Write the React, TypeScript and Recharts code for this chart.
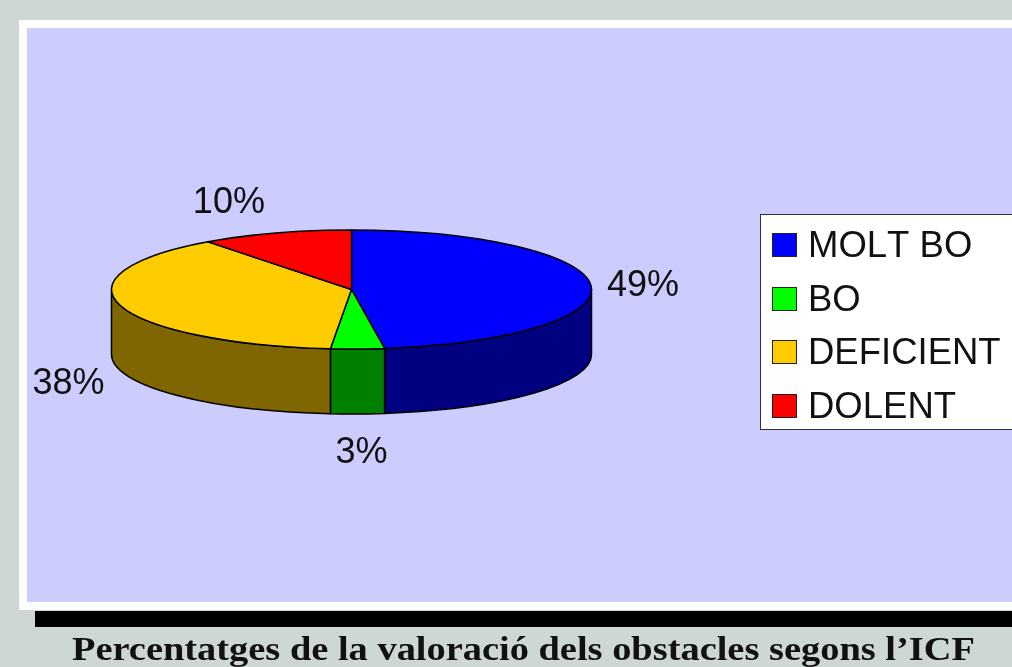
import React from 'react';
import { PieChart, Pie, Legend } from 'recharts';

const categories = ['MOLT BO', 'BO', 'DEFICIENT', 'DOLENT'];
// printed percentages
const percentLabels = ['49%', '3%', '38%', '10%'];
// shares as the slices are drawn in the picture (the 3D view skews them a bit from the printed ones)
const sliceShares = [47.8, 3.6, 38.4, 10.2];
const topColors = ['#0000FF', '#00FF00', '#FFCC00', '#FF0000'];
const sideColors = ['#000080', '#008000', '#806600', '#800000'];

const RX = 240;
const RY = 59.5;
const DEPTH = 65;
const CX = 351.5;
const CY = 289.5;
const FONT = '"Liberation Sans", Arial, sans-serif';
const labelNudges = [
  [52, -2],
  [4, 102],
  [-52, 76],
  [-47, -33]
];

const topData = categories.map((name, i) => ({
  name,
  value: sliceShares[i],
  fill: topColors[i]
}));
const sideData = categories.map((name, i) => ({
  name,
  value: sliceShares[i],
  fill: sideColors[i]
}));

const RADIAN = Math.PI / 180;
const px = (cx: number, a: number) => cx + RX * Math.cos(a * RADIAN);
const py = (cy: number, a: number) => cy - RY * Math.sin(a * RADIAN);

// flat circle sector squashed to an ellipse
const TopSlice = ({ cx, cy, startAngle, endAngle, fill }: any) => {
  const large = Math.abs(startAngle - endAngle) > 180 ? 1 : 0;
  const d = `M${cx},${cy} L${px(cx, startAngle)},${py(cy, startAngle)} A${RX},${RY} 0 ${large} 1 ${px(cx, endAngle)},${py(cy, endAngle)} Z`;
  return <path d={d} fill={fill} stroke="#000" strokeWidth={1.5} strokeLinejoin="round" />;
};

// the wall under a slice, only the front half of the disc shows
const SideSlice = ({ cx, cy, startAngle, endAngle, fill }: any) => {
  const s = Math.min(startAngle, 0);
  const e = Math.max(endAngle, -180);
  if (s <= e) return null;
  const d = `M${px(cx, s)},${py(cy, s)} A${RX},${RY} 0 0 1 ${px(cx, e)},${py(cy, e)} L${px(cx, e)},${py(cy, e) + DEPTH} A${RX},${RY} 0 0 0 ${px(cx, s)},${py(cy, s) + DEPTH} Z`;
  return <path d={d} fill={fill} stroke="#000" strokeWidth={1.5} strokeLinejoin="round" />;
};

const renderLabel = ({ cx, cy, midAngle, index }: any) => (
  <text
    x={px(cx, midAngle) + labelNudges[index][0]}
    y={py(cy, midAngle) + labelNudges[index][1]}
    textAnchor="middle"
    dominantBaseline="central"
    fontFamily={FONT}
    fontSize={36}
    fill="#111"
  >
    {percentLabels[index]}
  </text>
);

// the legend would list the wall colours too, so it is built from the top slices only
const LegendBox = () => (
  <div
    style={{
      boxSizing: 'border-box',
      width: 252,
      height: 216,
      background: '#fff',
      border: '1.5px solid #333',
      borderRight: 'none',
      paddingTop: 3,
      fontFamily: FONT
    }}
  >
    {categories.map((name, i) => (
      <div key={name} style={{ display: 'flex', alignItems: 'center', height: 53.7, paddingLeft: 11 }}>
        <span
          style={{
            display: 'inline-block',
            boxSizing: 'border-box',
            width: 25,
            height: 24,
            background: topColors[i],
            border: '1.5px solid #222',
            marginRight: 11
          }}
        />
        <span style={{ fontSize: 36.5, color: '#111', whiteSpace: 'nowrap', fontKerning: 'none' }}>{name}</span>
      </div>
    ))}
  </div>
);

export default function App() {
  return (
    <div
      style={{
        position: 'absolute',
        left: 0,
        top: 0,
        width: 1012,
        height: 667,
        overflow: 'hidden',
        background: '#CDD8D2',
        filter: 'blur(0.5px)'
      }}
    >
      <div style={{ position: 'absolute', left: 19, top: 20, width: 993, height: 590, background: '#fff' }} />
      <div style={{ position: 'absolute', left: 27, top: 28, width: 985, height: 574, background: '#CCCCFF' }} />
      <div style={{ position: 'absolute', left: 35, top: 611, width: 977, height: 16, background: '#000' }} />
      <div
        style={{
          position: 'absolute',
          left: 72,
          top: 630,
          fontFamily: '"Liberation Serif", "Times New Roman", serif',
          fontWeight: 'bold',
          fontSize: 33,
          lineHeight: '38px',
          color: '#111',
          whiteSpace: 'nowrap',
          transform: 'scaleX(1.164)',
          transformOrigin: 'left center'
        }}
      >
        Percentatges de la valoració dels obstacles segons l’ICF
      </div>
      <div style={{ position: 'absolute', left: 0, top: 0 }}>
        <PieChart width={1012} height={667} margin={{ top: 0, right: 0, bottom: 0, left: 0 }}>
          <Pie
            data={sideData}
            dataKey="value"
            nameKey="name"
            cx={CX}
            cy={CY}
            outerRadius={RX}
            startAngle={90}
            endAngle={-270}
            legendType="none"
            shape={SideSlice}
            isAnimationActive={false}
          />
          <Pie
            data={topData}
            dataKey="value"
            nameKey="name"
            cx={CX}
            cy={CY}
            outerRadius={RX}
            startAngle={90}
            endAngle={-270}
            shape={TopSlice}
            label={renderLabel}
            labelLine={false}
            isAnimationActive={false}
          />
          <Legend
            content={LegendBox}
            wrapperStyle={{ position: 'absolute', left: 760, top: 214, width: 252, height: 216 }}
          />
        </PieChart>
      </div>
    </div>
  );
}
